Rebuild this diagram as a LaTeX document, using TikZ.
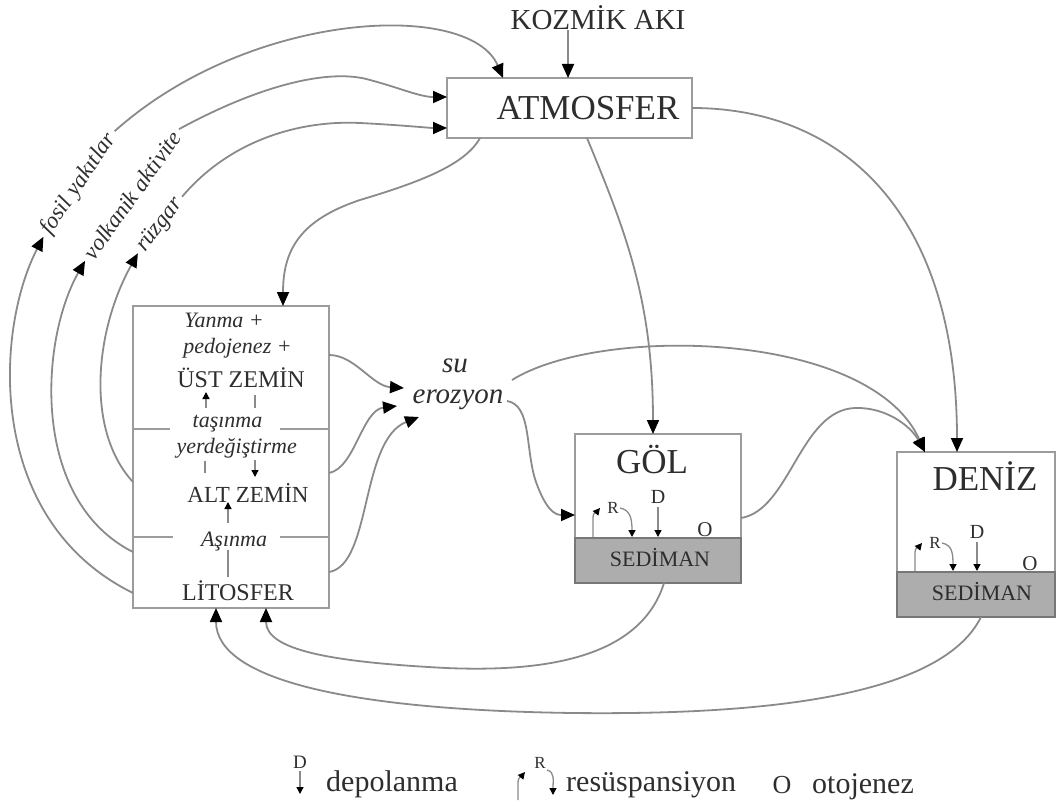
\documentclass[tikz,border=0pt]{standalone}
\usepackage{fontspec}
\setmainfont{Liberation Serif}
\usetikzlibrary{arrows.meta}
\definecolor{ln}{HTML}{8A8A8A}
\definecolor{bx}{HTML}{9C9C9C}
\definecolor{tx}{HTML}{2E2E2E}
\definecolor{sed}{HTML}{ADADAD}
\definecolor{sedb}{HTML}{777777}
\newcommand{\fs}[1]{\fontsize{#1}{#1}\selectfont}
\begin{document}
\begin{tikzpicture}[x=1pt,y=-1pt,
  conn/.style={draw=ln, line width=1.8pt, -{Triangle[length=14pt,width=12pt,color=black]}},
  plainln/.style={draw=ln, line width=1.6pt},
  tiny/.style={draw=ln, line width=1.3pt, -{Triangle[length=7pt,width=7pt,color=black]}},
  box/.style={draw=bx, line width=2.6pt, fill=white, inner sep=0pt, outer sep=0pt},
  sedbox/.style={draw=sedb, line width=2.4pt, fill=sed, inner sep=0pt, outer sep=0pt},
  lbl/.style={text=tx, inner sep=0pt},
  rlbl/.style={text=tx, inner sep=5pt, font=\fs{23}\itshape},
  sepln/.style={draw=bx, line width=2.4pt}
]
\useasboundingbox (0,0) rectangle (1057,805);

% ---------- boxes ----------
\node[box, minimum width=245pt, minimum height=60pt] (atm) at (569.5,108) {};
\node[lbl, font=\fs{35}, anchor=base] (atmt) at (588,120) {ATMOSFER};
\node[lbl, font=\fs{29}, anchor=base] (koz) at (598,30) {KOZMİK AKI};

\node[box, minimum width=196pt, minimum height=302pt] (lit) at (231,457) {};
\draw[sepln] (133,429) -- (170,429) (280,429) -- (329,429);
\draw[sepln] (133,537) -- (173,537) (280,537) -- (329,537);
\node[lbl, font=\fs{22}\itshape, anchor=base] (yan) at (224,327) {Yanma +};
\node[lbl, font=\fs{22}\itshape, anchor=base] (ped) at (237.5,353) {pedojenez +};
\node[lbl, font=\fs{24}, anchor=base] (ust) at (241,387) {ÜST ZEMİN};
\node[lbl, font=\fs{22}\itshape, anchor=base] (tas) at (227.5,427) {taşınma};
\node[lbl, font=\fs{22}\itshape, anchor=base] (yer) at (236.7,453) {yerdeğiştirme};
\node[lbl, font=\fs{23}, anchor=base] (alt) at (248,502) {ALT ZEMİN};
\node[lbl, font=\fs{22}\itshape, anchor=base] (asi) at (234,546) {Aşınma};
\node[lbl, font=\fs{24}, anchor=base] (lits) at (238,600) {LİTOSFER};
% small marks inside the soil box
\draw[tiny] (206,408) -- (206,392);
\draw[plainln] (255,395) -- (255,408);
\draw[plainln] (205,461) -- (205,473);
\draw[tiny] (255,460) -- (255,477);
\draw[tiny] (228,523) -- (228,502);
\draw[plainln] (228,550) -- (228,577);

% lake
\node[box, minimum width=166pt, minimum height=149pt] (gol) at (658,508.5) {};
\node[sedbox, minimum width=166pt, minimum height=45pt] (golsed) at (658,560.5) {};
\node[lbl, font=\fs{35}, anchor=base] (golt) at (652,473) {GÖL};
\node[lbl, font=\fs{22}, anchor=base] (golst) at (660,566) {SEDİMAN};
\draw[tiny] (593,537) -- (593,517) to[out=90,in=-130] (600,508);
\node[lbl, font=\fs{17}, anchor=base] (golR) at (613,513) {R};
\draw[tiny] (620,508) .. controls (630,510) and (632,518) .. (632,537);
\node[lbl, font=\fs{20}, anchor=base] (golD) at (658,503) {D};
\draw[tiny] (658,507) -- (658,537);
\node[lbl, font=\fs{21}, anchor=base] (golO) at (705,536) {O};

% sea
\node[box, minimum width=158pt, minimum height=165pt] (den) at (976,534.5) {};
\node[sedbox, minimum width=158pt, minimum height=45pt] (densed) at (976,594.5) {};
\node[lbl, font=\fs{35}, anchor=base] (dent) at (985,490) {DENİZ};
\node[lbl, font=\fs{22}, anchor=base] (denst) at (982,600) {SEDİMAN};
\draw[tiny] (915,571) -- (915,552) to[out=90,in=-130] (922,543);
\node[lbl, font=\fs{17}, anchor=base] (denR) at (935,548) {R};
\draw[tiny] (942,543) .. controls (952,545) and (953,553) .. (953,571);
\node[lbl, font=\fs{20}, anchor=base] (denD) at (977,538) {D};
\draw[tiny] (977,542) -- (977,571);
\node[lbl, font=\fs{21}, anchor=base] (denO) at (1030,570) {O};

% erosion label
\node[lbl, font=\fs{29}\itshape, anchor=base] (su) at (455,372) {su};
\node[lbl, font=\fs{29}\itshape, anchor=base] (ero) at (458,403) {erozyon};
\coordinate (e1) at (404,388);
\coordinate (e2) at (397,406);
\coordinate (e3) at (419,417);
\coordinate (s1) at (512,380);
\coordinate (s2) at (507,401);

% rotated flux labels
\node[rlbl, rotate=56] (fos) at (79,184) {fosil yakıtlar};
\node[rlbl, rotate=54.5] (vol) at (132,195) {volkanik aktivite};
\node[rlbl, rotate=52] (ruz) at (160,225) {rüzgar};

% ---------- connectors ----------
\draw[conn] ([xshift=-30pt]koz.south) -- ([xshift=-1.5pt]atm.north);
\draw[conn] ([xshift=17.5pt]atm.south) .. controls (625,230) and (653,300) .. ([xshift=-5pt]gol.north);
\draw[conn] (atm.east) .. controls (840,108) and (957,210) .. ([xshift=-19pt]den.north);
\draw[conn] ([xshift=33pt]atm.south west) .. controls (465,165) and (420,182) .. (360,200)
            .. controls (300,220) and (283,250) .. ([xshift=52pt]lit.north);

% from the soil box up to the atmosphere
\draw[conn] ([yshift=-136pt]lit.west) .. controls (-15,520) and (-5,330) .. (fos.west);
\draw[conn] ([yshift=-95pt]lit.west) .. controls (30,500) and (40,340) .. (vol.west);
\draw[conn] ([yshift=-25pt]lit.west) .. controls (85,430) and (95,330) .. (ruz.west);
\draw[conn] (fos.east) .. controls (250,10) and (470,0) .. ([xshift=56pt]atm.north west);
\draw[conn] (vol.east) .. controls (260,85) and (330,68) .. (370,80)
            .. controls (400,88) and (420,97) .. ([yshift=11pt]atm.west);
\draw[conn] (ruz.east) .. controls (230,140) and (300,120) .. (360,123)
            .. controls (400,125) and (430,128) .. ([yshift=-20pt]atm.west);

% soil box to erosion
\draw[conn] ([yshift=102pt]lit.east) .. controls (355,355) and (372,386) .. (e1);
\draw[conn] ([yshift=-16pt]lit.east) .. controls (355,468) and (362,410) .. (e2);
\draw[conn] ([yshift=-115pt]lit.east) .. controls (372,565) and (360,440) .. (e3);

% erosion to lake and sea
\draw[conn] (s2) .. controls (532,405) and (525,450) .. (536,482)
            .. controls (546,510) and (555,515) .. ([yshift=-6.5pt]gol.west);
\draw[conn] (s1) .. controls (600,325) and (870,330) .. ([xshift=-51pt]den.north);
\draw[conn] ([yshift=-9.5pt]gol.east) .. controls (790,510) and (800,410) .. (855,408)
            .. controls (885,407) and (910,425) .. ([xshift=-51pt]den.north);

% sediments back to the lithosphere
\draw[conn] ([xshift=6pt]golsed.south) .. controls (640,660) and (540,672) .. (446,668)
            .. controls (330,662) and (266,650) .. ([xshift=35pt]lit.south);
\draw[conn] ([xshift=5pt]densed.south) .. controls (940,700) and (750,715) .. (573,713)
            .. controls (350,710) and (216,680) .. ([xshift=-15pt]lit.south);

% ---------- legend ----------
\node[lbl, font=\fs{19}, anchor=base] (lgD) at (300,768) {D};
\draw[tiny] (300,771) -- (300,794);
\node[lbl, font=\fs{30}, anchor=base west] (lgdep) at (326,791) {depolanma};
\draw[tiny] (518,800) -- (518,782) to[out=90,in=-130] (525,772);
\node[lbl, font=\fs{17}, anchor=base] (lgR) at (540,768) {R};
\draw[tiny] (547,770) .. controls (555,772) and (553,780) .. (553,795);
\node[lbl, font=\fs{30}, anchor=base west] (lgres) at (566,791) {resüspansiyon};
\node[lbl, font=\fs{26}, anchor=base] (lgO) at (782,793) {O};
\node[lbl, font=\fs{30}, anchor=base west] (lgoto) at (812,793) {otojenez};
\end{tikzpicture}
\end{document}
